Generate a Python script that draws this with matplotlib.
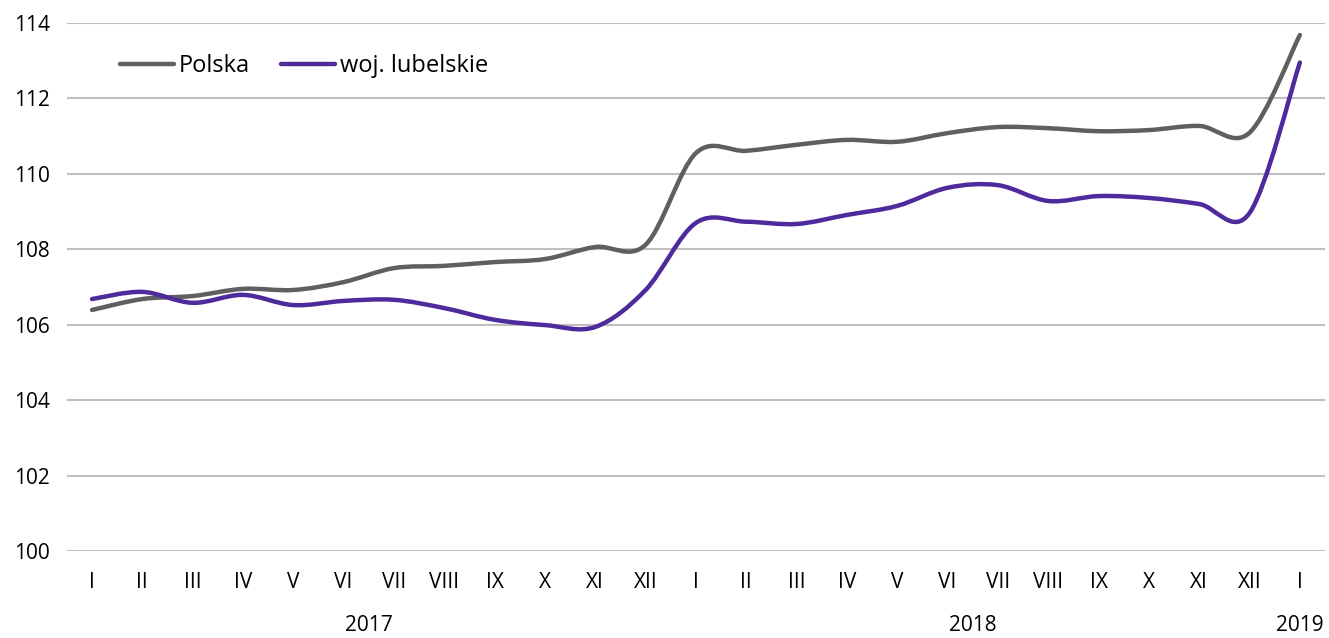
import matplotlib
matplotlib.use("Agg")
import matplotlib.pyplot as plt
from matplotlib.path import Path
from matplotlib.patches import PathPatch
from matplotlib.lines import Line2D
import numpy as np

months = ["I", "II", "III", "IV", "V", "VI", "VII", "VIII", "IX", "X", "XI", "XII"]
tick_labels = months + months + ["I"]
years = ["2017", "2018", "2019"]

polska = [106.39, 106.68, 106.76, 106.95, 106.92, 107.13, 107.50, 107.56, 107.66, 107.74, 108.06, 108.12,
          110.55, 110.61, 110.77, 110.90, 110.85, 111.08, 111.24, 111.21, 111.13, 111.16, 111.27, 111.09,
          113.68]
lubelskie = [106.68, 106.87, 106.58, 106.79, 106.52, 106.63, 106.66, 106.44, 106.13, 105.99, 105.94, 106.92,
             108.70, 108.73, 108.67, 108.91, 109.15, 109.63, 109.70, 109.28, 109.41, 109.36, 109.20, 108.96,
             112.95]

series_names = ["Polska", "woj. lubelskie"]
colors = ["#5f5f5f", "#4f2a9c"]

plt.rcParams['font.family'] = ['Open Sans', 'DejaVu Sans']

fig = plt.figure(figsize=(13.29, 6.38), dpi=100)
ax = fig.add_axes([0.0503, 0.1364, 0.9467, 0.8276])


def smooth_path(x, y):
    x = np.asarray(x, float)
    y = np.asarray(y, float)
    n = len(x)
    verts = [(x[0], y[0])]
    codes = [Path.MOVETO]
    for i in range(n - 1):
        p0 = (x[max(i - 1, 0)], y[max(i - 1, 0)])
        p1 = (x[i], y[i])
        p2 = (x[i + 1], y[i + 1])
        p3 = (x[min(i + 2, n - 1)], y[min(i + 2, n - 1)])
        c1 = (p1[0] + (p2[0] - p0[0]) / 6, p1[1] + (p2[1] - p0[1]) / 6)
        c2 = (p2[0] - (p3[0] - p1[0]) / 6, p2[1] - (p3[1] - p1[1]) / 6)
        verts += [c1, c2, p2]
        codes += [Path.CURVE4, Path.CURVE4, Path.CURVE4]
    return Path(verts, codes)


xs = np.arange(len(tick_labels))
for vals, col in zip([polska, lubelskie], colors):
    patch = PathPatch(smooth_path(xs, vals), facecolor="none", edgecolor=col,
                      lw=3.2, capstyle="round", joinstyle="round", zorder=3)
    ax.add_patch(patch)

fs = 15
ax.set_xlim(-0.5, len(tick_labels) - 0.5)
ax.set_ylim(100, 114)
ax.set_yticks(np.arange(100, 115, 2))
ax.set_yticklabels([str(v) for v in range(100, 115, 2)], fontsize=fs)
ax.set_xticks(xs)
ax.set_xticklabels(tick_labels, fontsize=fs)
ax.tick_params(axis="both", length=0)
ax.tick_params(axis="x", pad=15)
ax.tick_params(axis="y", pad=12)
ax.grid(axis="y", color="#bfbfbf", lw=1.5)
ax.set_axisbelow(True)
for s in ax.spines.values():
    s.set_visible(False)

# year labels
year_pos = [5.5, 17.5, 24]
for yl, xp in zip(years, year_pos):
    ax.text(xp, -0.142, yl, transform=ax.get_xaxis_transform(), ha="center", va="center", fontsize=fs)

handles = [Line2D([0], [0], color=c, lw=3.2, solid_capstyle="round") for c in colors]
ax.legend(handles, series_names, loc="center left", bbox_to_anchor=(0.0423, 0.9186), ncol=2,
          frameon=False, fontsize=17, handlelength=2.3, handletextpad=0.2, columnspacing=1.3,
          borderpad=0, borderaxespad=0)

fig.savefig("out.png", dpi=100, facecolor="white")
